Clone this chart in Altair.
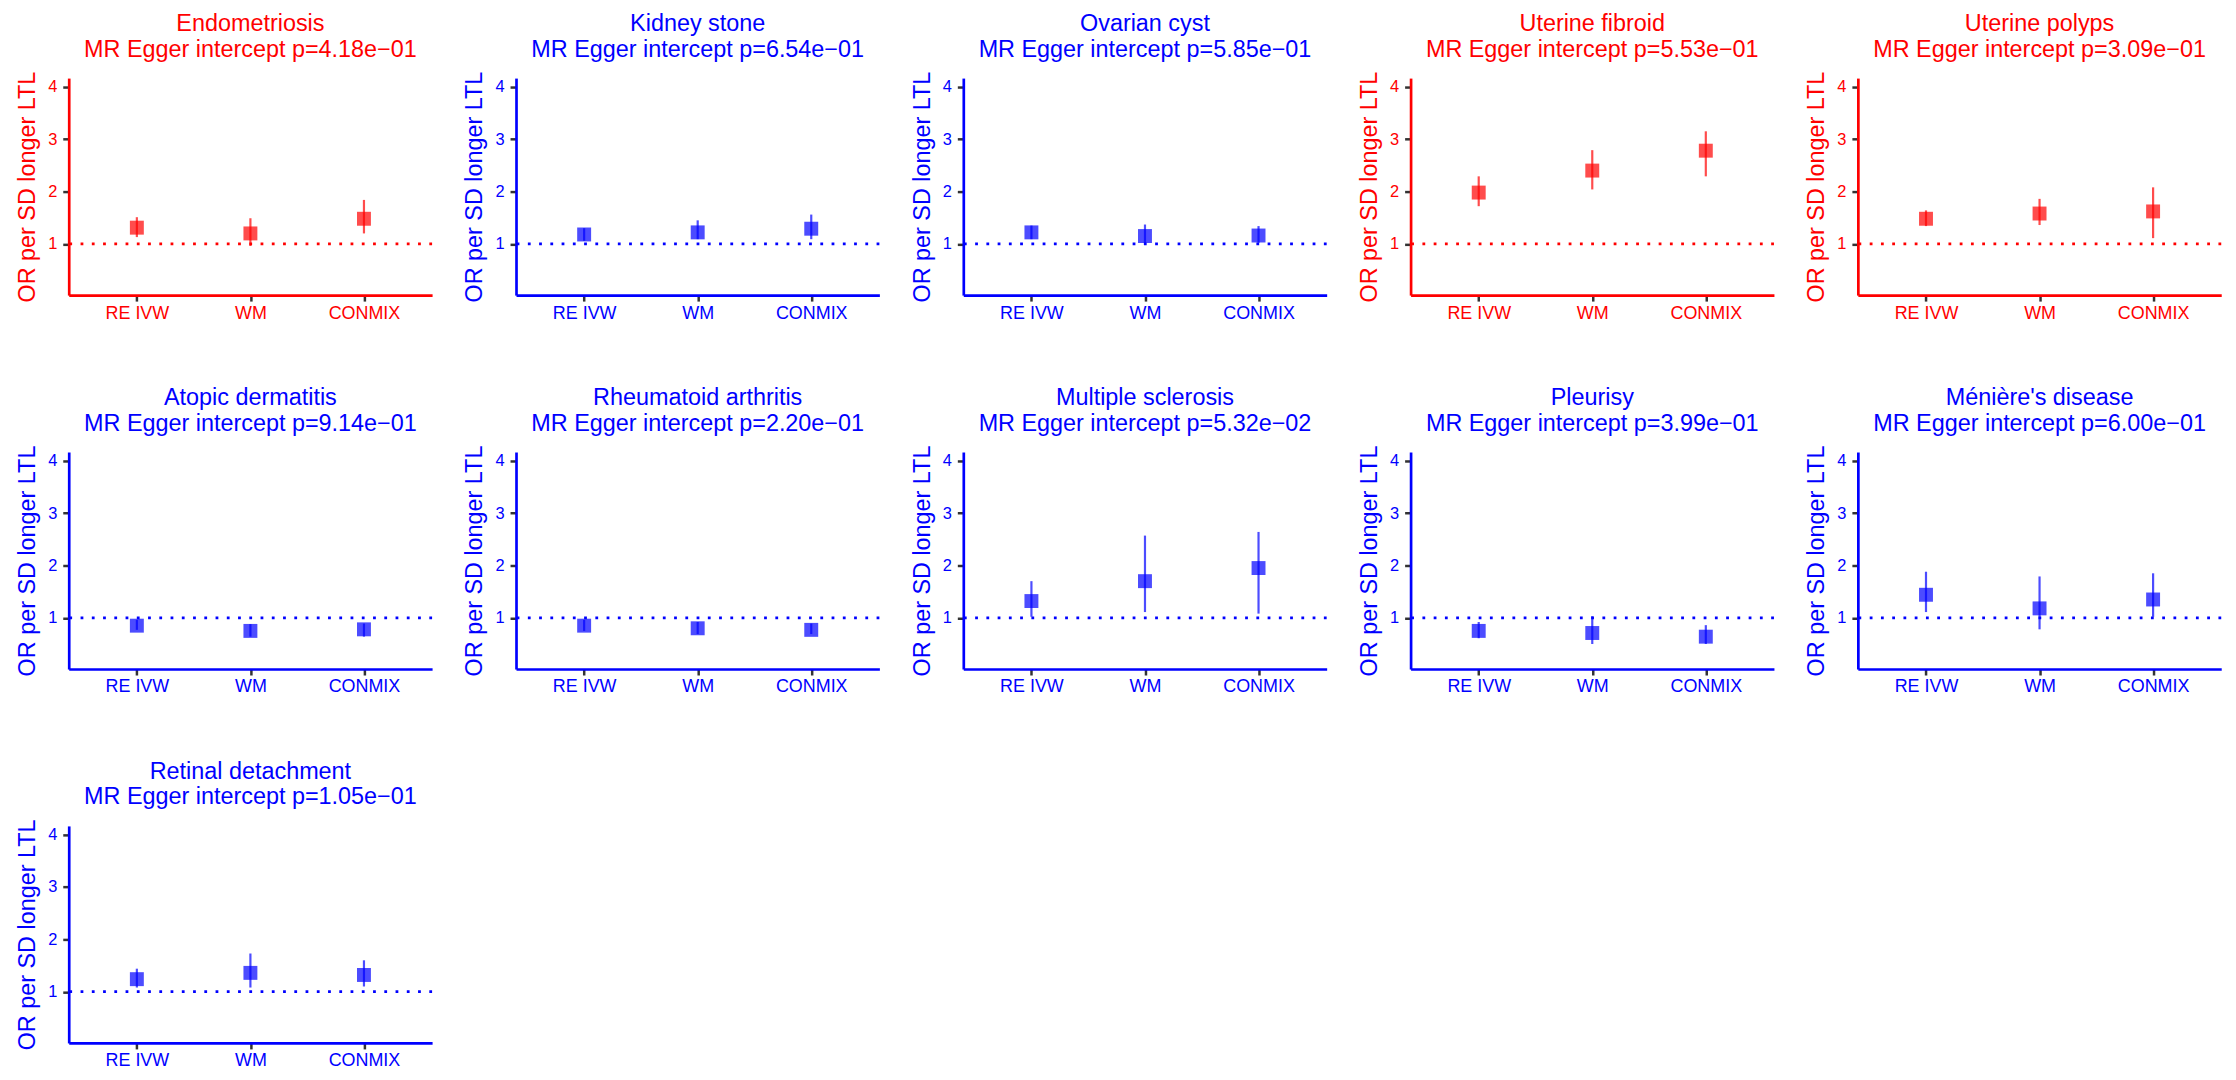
import altair as alt
import pandas as pd

diseases = ["Endometriosis", "Kidney stone", "Ovarian cyst", "Uterine fibroid", "Uterine polyps",
            "Atopic dermatitis", "Rheumatoid arthritis", "Multiple sclerosis", "Pleurisy",
            "Ménière's disease", "Retinal detachment"]
egger_p = ["4.18e−01", "6.54e−01", "5.85e−01", "5.53e−01", "3.09e−01",
           "9.14e−01", "2.20e−01", "5.32e−02", "3.99e−01", "6.00e−01", "1.05e−01"]
panel_colors = ["#FF0000", "#0000FF", "#0000FF", "#FF0000", "#FF0000",
                "#0000FF", "#0000FF", "#0000FF", "#0000FF", "#0000FF", "#0000FF"]
methods = ["RE IVW", "WM", "CONMIX"]

or_est = [
    [1.31, 1.20, 1.48],
    [1.18, 1.22, 1.29],
    [1.22, 1.15, 1.16],
    [1.98, 2.40, 2.78],
    [1.48, 1.58, 1.62],
    [0.85, 0.75, 0.78],
    [0.85, 0.80, 0.77],
    [1.32, 1.70, 1.95],
    [0.75, 0.71, 0.64],
    [1.44, 1.18, 1.35],
    [1.24, 1.36, 1.32],
]
ci_low = [
    [1.13, 0.96, 1.20],
    [1.06, 1.09, 1.09],
    [1.09, 1.01, 1.02],
    [1.72, 2.04, 2.29],
    [1.34, 1.36, 1.11],
    [0.77, 0.64, 0.64],
    [0.75, 0.69, 0.69],
    [1.02, 1.11, 1.08],
    [0.61, 0.50, 0.50],
    [1.11, 0.78, 1.02],
    [1.08, 1.08, 1.10],
]
ci_high = [
    [1.51, 1.49, 1.84],
    [1.30, 1.45, 1.56],
    [1.35, 1.37, 1.34],
    [2.29, 2.79, 3.15],
    [1.64, 1.86, 2.08],
    [0.96, 0.88, 0.89],
    [0.96, 0.92, 0.89],
    [1.70, 2.57, 2.64],
    [0.92, 1.03, 0.86],
    [1.88, 1.79, 1.85],
    [1.44, 1.73, 1.60],
]
ref_value = [1.0]
y_ticks = [1, 2, 3, 4]

FONT = "Liberation Sans"
Y_DOMAIN = [0.022, 4.166]

panels = []
for i, name in enumerate(diseases):
    col = panel_colors[i]
    df = pd.DataFrame({
        "method": methods,
        "or": or_est[i],
        "lo": ci_low[i],
        "hi": ci_high[i],
    })
    ref_df = pd.DataFrame({"ref": ref_value})
    yscale = alt.Scale(domain=Y_DOMAIN, nice=False, zero=False)
    yaxis = alt.Axis(values=y_ticks, title="OR per SD longer LTL", grid=False,
                     domainColor=col, domainWidth=2.7, tickColor="#333333", tickWidth=2.5,
                     tickSize=6, labelColor=col, titleColor=col, labelFontSize=16.5,
                     titleFontSize=23.5, titleFontWeight="normal", labelPadding=6,
                     titlePadding=8, labelFont=FONT, titleFont=FONT)
    xaxis = alt.Axis(title=None, labelAngle=0, grid=False, domainColor=col, domainWidth=2.7,
                     tickColor="#333333", tickWidth=2.5, tickSize=6, labelColor=col,
                     labelFontSize=18, labelPadding=3, labelFont=FONT)
    xenc = alt.X("method:N", sort=methods, scale=alt.Scale(type="point", padding=0.6), axis=xaxis)

    ref = alt.Chart(ref_df).mark_rule(color=col, strokeWidth=2.8, strokeDash=[2.8, 8.5],
                                      strokeCap="butt").encode(
        y=alt.Y("ref:Q", scale=yscale, axis=yaxis)
    )
    bars = alt.Chart(df).mark_rule(color=col, strokeWidth=2.2, opacity=0.7).encode(
        x=xenc,
        y=alt.Y("lo:Q", scale=yscale, axis=yaxis),
        y2="hi:Q",
    )
    pts = alt.Chart(df).mark_square(color=col, size=196, opacity=0.7, filled=True).encode(
        x=xenc,
        y=alt.Y("or:Q", scale=yscale, axis=yaxis),
    )
    panel = alt.layer(ref, bars, pts).properties(
        width=365, height=218,
        title=alt.TitleParams(text=[name, "MR Egger intercept p=" + egger_p[i]],
                              color=col, fontSize=23.5, font=FONT, fontWeight="normal",
                              anchor="middle", frame="group", offset=10, lineHeight=25.7),
    )
    panels.append(panel)

chart = alt.concat(*panels, columns=5, spacing={"row": 157.6, "column": 84.3},
                   bounds="flush").configure_view(stroke=None).properties(
    padding={"left": 7, "top": 1, "right": 5, "bottom": 5}
)

chart.save("out.html", embed_options={"renderer": "svg", "actions": False})
